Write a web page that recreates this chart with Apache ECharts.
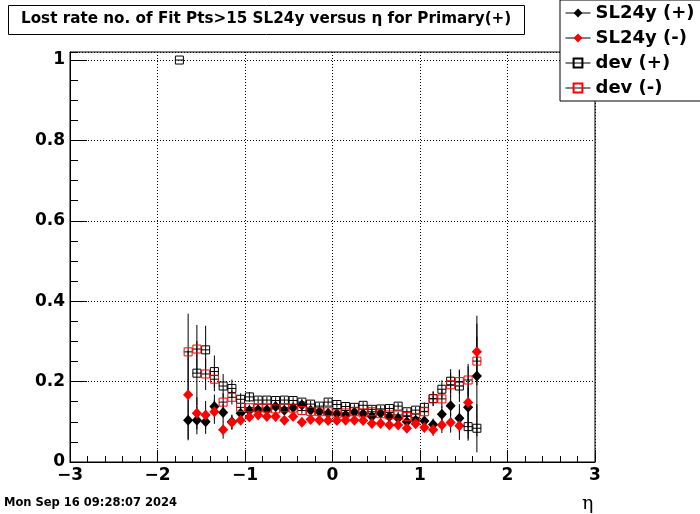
<!DOCTYPE html>
<html>
<head>
<meta charset="utf-8">
<script src="https://cdn.jsdelivr.net/npm/echarts@6/dist/echarts.min.js"></script>
<style>html,body{margin:0;padding:0;background:#fff}#c{width:700px;height:514px}</style>
</head>
<body>
<div id="c"></div>
<script>
const etaBins = [-1.65,-1.55,-1.45,-1.35,-1.25,-1.15,-1.05,-0.95,-0.85,-0.75,-0.65,-0.55,-0.45,-0.35,-0.25,-0.15,-0.05,
  0.05,0.15,0.25,0.35,0.45,0.55,0.65,0.75,0.85,0.95,1.05,1.15,1.25,1.35,1.45,1.55,1.65];
const sl24yPlus = [0.104,0.104,0.100,0.138,0.123,0.100,0.121,0.128,0.130,0.130,0.138,0.129,0.135,0.142,0.129,0.125,0.121,
  0.120,0.117,0.124,0.120,0.113,0.121,0.113,0.109,0.100,0.104,0.102,0.093,0.119,0.140,0.109,0.136,0.214];
const sl24yPlusErr = [0.05,0.035,0.03,0.03,0.022,0.018,0.012,0.008,0.008,0.008,0.008,0.008,0.008,0.008,0.008,0.008,0.008,
  0.008,0.008,0.008,0.008,0.008,0.008,0.008,0.008,0.008,0.008,0.012,0.015,0.02,0.025,0.035,0.05,0.15];
const sl24yMinus = [0.167,0.121,0.117,0.125,0.080,0.098,0.104,0.112,0.117,0.113,0.113,0.104,0.113,0.099,0.106,0.104,0.103,
  0.103,0.104,0.104,0.103,0.096,0.096,0.092,0.092,0.084,0.095,0.086,0.080,0.092,0.098,0.090,0.148,0.274];
const sl24yMinusErr = [0.11,0.04,0.035,0.03,0.022,0.018,0.012,0.008,0.008,0.008,0.008,0.008,0.008,0.008,0.008,0.008,0.008,
  0.008,0.008,0.008,0.008,0.008,0.008,0.008,0.008,0.008,0.008,0.012,0.015,0.02,0.025,0.035,0.09,0.07];
const devEta = [-1.75,-1.55,-1.45,-1.35,-1.25,-1.15,-1.05,-0.95,-0.85,-0.75,-0.65,-0.55,-0.45,-0.35,-0.25,-0.15,-0.05,
  0.05,0.15,0.25,0.35,0.45,0.55,0.65,0.75,0.85,0.95,1.05,1.15,1.25,1.35,1.45,1.55,1.65];
const devPlus = [1.0,0.221,0.279,0.225,0.189,0.183,0.156,0.162,0.154,0.154,0.153,0.154,0.153,0.149,0.144,0.139,0.149,
  0.143,0.138,0.136,0.141,0.131,0.132,0.133,0.139,0.125,0.129,0.136,0.158,0.181,0.201,0.189,0.088,0.084];
const devPlusErr = [0,0.08,0.06,0.04,0.03,0.022,0.015,0.012,0.008,0.008,0.008,0.008,0.008,0.008,0.008,0.008,0.008,
  0.008,0.008,0.008,0.008,0.008,0.008,0.008,0.008,0.008,0.008,0.012,0.018,0.022,0.03,0.04,0.035,0.06];
const devMinus = [0.274,0.281,0.219,0.206,0.149,0.161,0.136,0.135,0.134,0.134,0.132,0.135,0.134,0.128,0.126,0.125,0.125,
  0.120,0.122,0.125,0.122,0.125,0.120,0.117,0.117,0.113,0.111,0.125,0.157,0.157,0.192,0.200,0.204,0.251];
const devMinusErr = [0.095,0.06,0.04,0.03,0.022,0.018,0.012,0.008,0.008,0.008,0.008,0.008,0.008,0.008,0.008,0.008,0.008,
  0.008,0.008,0.008,0.008,0.008,0.008,0.008,0.008,0.008,0.008,0.012,0.018,0.022,0.03,0.03,0.04,0.06];
const xTicks = [-3,-2,-1,0,1,2,3];
const yTicks = [0,0.2,0.4,0.6,0.8,1];
const titleText = 'Lost rate no. of Fit Pts>15 SL24y versus \u03b7 for Primary(+)';
const dateText = 'Mon Sep 16 09:28:07 2024';
const names = ['SL24y (+)','SL24y (-)','dev (+)','dev (-)'];

const F = 'DejaVu Sans';
function pts(xs, ys){ return xs.map((x,i)=>[x, ys[i]]); }
function errs(xs, ys, es){ return xs.map((x,i)=>[x, ys[i], es[i]]); }
const errData = [].concat(
  errs(etaBins, sl24yPlus, sl24yPlusErr),
  errs(etaBins, sl24yMinus, sl24yMinusErr),
  errs(devEta, devPlus, devPlusErr),
  errs(etaBins, devMinus, devMinusErr));

const chart = echarts.init(document.getElementById('c'), null, {renderer:'canvas'});
chart.setOption({
  backgroundColor:'#fff',
  animation:false,
  title:[
    {text:titleText, left:8, top:5, borderColor:'#000', borderWidth:1, padding:[7,14,8,13],
     textStyle:{fontFamily:F, fontWeight:'bold', fontSize:15.2, color:'#000'}},
    {text:dateText, left:4, top:497, padding:0,
     textStyle:{fontFamily:F, fontWeight:'bold', fontSize:11.5, color:'#000'}},
    {text:'\u03b7', left:582, top:495, padding:0,
     textStyle:{fontFamily:'DejaVu Serif', fontWeight:'normal', fontSize:19, color:'#000'}}
  ],
  legend:{
    orient:'vertical', left:560, top:0, padding:[3,30,3,5], itemGap:5,
    itemWidth:25, itemHeight:11,
    backgroundColor:'#fff', borderColor:'#000', borderWidth:1, borderRadius:0,
    data:names,
    textStyle:{fontFamily:F, fontWeight:'bold', fontSize:18, color:'#000', lineHeight:20},
    lineStyle:{color:'#000', width:1, opacity:1, type:'solid'}
  },
  grid:{left:70, right:105, top:52, bottom:52, show:true, borderColor:'#000', borderWidth:1, backgroundColor:'transparent'},
  xAxis:{
    type:'value', min:xTicks[0], max:xTicks[xTicks.length-1], interval:1,
    axisLine:{show:true, onZero:false, lineStyle:{color:'#000', width:1}},
    axisTick:{show:true, inside:true, length:12, lineStyle:{color:'#000'}},
    minorTick:{show:true, splitNumber:5, length:6, lineStyle:{color:'#000'}},
    splitLine:{show:true, lineStyle:{color:'#000', type:[1,2], width:1}},
    axisLabel:{margin:5, fontFamily:F, fontWeight:'bold', fontSize:17, color:'#000',
      formatter:v=>String(v).replace('-','\u2212')}
  },
  yAxis:[
    {type:'value', min:yTicks[0], max:1.02, interval:0.2,
     axisLine:{show:true, onZero:false, lineStyle:{color:'#000', width:1}},
     axisTick:{show:true, inside:true, length:17, lineStyle:{color:'#000'}},
     splitLine:{show:true, lineStyle:{color:'#000', type:[1,2], width:1}},
     axisLabel:{margin:5, showMaxLabel:false, fontFamily:F, fontWeight:'bold', fontSize:17, color:'#000',
       formatter:v=>String(Math.round(v*10)/10)}},
    {type:'value', min:0, max:1.02, interval:0.05, position:'left',
     axisLine:{show:false, onZero:false}, axisLabel:{show:false}, splitLine:{show:false},
     axisTick:{show:true, inside:true, length:8, lineStyle:{color:'#000'}}}
  ],
  series:[
    {type:'custom', name:'errors', silent:true, clip:true, z:1,
     data:errData,
     renderItem:function(params, api){
       const x=api.value(0), y=api.value(1), e=api.value(2);
       const a=api.coord([x,y-e]), b=api.coord([x,y+e]);
       const l=api.coord([x-0.05,y]), r=api.coord([x+0.05,y]);
       return {type:'group', children:[
         {type:'line', shape:{x1:a[0],y1:a[1],x2:b[0],y2:b[1]}, style:{stroke:'#000', lineWidth:1}},
         {type:'line', shape:{x1:l[0],y1:l[1],x2:r[0],y2:r[1]}, style:{stroke:'#000', lineWidth:1}}
       ]};
     }},
    {type:'line', name:names[0], data:pts(etaBins, sl24yPlus), symbol:'diamond', symbolSize:[10,11],
     showSymbol:true, lineStyle:{width:0, opacity:0}, itemStyle:{color:'#000'}, z:2},
    {type:'line', name:names[1], data:pts(etaBins, sl24yMinus), symbol:'diamond', symbolSize:[10,11],
     showSymbol:true, lineStyle:{width:0, opacity:0}, itemStyle:{color:'#ff0000'}, z:3},
    {type:'line', name:names[2], data:pts(devEta, devPlus), symbol:'rect', symbolSize:8,
     showSymbol:true, lineStyle:{width:0, opacity:0}, itemStyle:{color:'rgba(0,0,0,0)', borderColor:'#000', borderWidth:1}, z:4},
    {type:'line', name:names[3], data:pts(etaBins, devMinus), symbol:'rect', symbolSize:8,
     showSymbol:true, lineStyle:{width:0, opacity:0}, itemStyle:{color:'rgba(0,0,0,0)', borderColor:'#ff0000', borderWidth:1}, z:5}
  ]
});
</script>
</body>
</html>
